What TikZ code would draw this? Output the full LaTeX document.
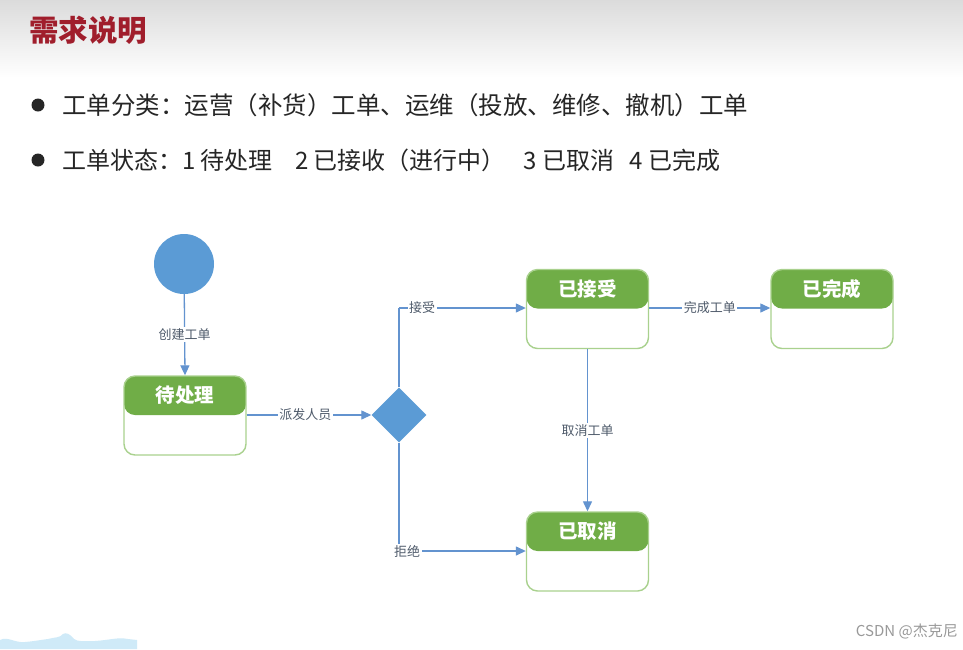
\documentclass[tikz,border=0pt]{standalone}
\usepackage{fontspec}
\setmainfont{Noto Sans CJK SC}
\usetikzlibrary{arrows.meta,shapes.geometric}
\definecolor{hdrgreen}{HTML}{70AD47}
\definecolor{boxline}{HTML}{A9D18E}
\definecolor{flowblue}{HTML}{5B9BD5}
\definecolor{linkblue}{HTML}{6393CF}
\definecolor{labelgray}{HTML}{4F5B6B}
\definecolor{titlered}{HTML}{A01E2C}
\definecolor{cloudblue}{HTML}{CFEAF8}
\tikzset{
  statebox/.style={rectangle, rounded corners=11pt, draw=boxline, line width=1.4pt,
    fill=white, minimum width=122pt, minimum height=79pt, inner sep=0pt,
    path picture={\fill[hdrgreen] ([yshift=2pt]path picture bounding box.north west)
      rectangle ([yshift=0.5pt]path picture bounding box.east);}},
  hdrtext/.style={text=white, font=\fontsize{19.5}{21}\selectfont\bfseries, inner sep=0pt},
  link/.style={draw=linkblue, line width=1.3pt, -{Triangle[length=10pt,width=9pt]}},
  plainlink/.style={draw=linkblue, line width=1.3pt},
  lbl/.style={fill=white, text=labelgray, font=\fontsize{13}{15}\selectfont, inner sep=1.5pt},
  bullettext/.style={anchor=west, text=black!85, inner sep=0pt},
}
\begin{document}
\begin{tikzpicture}[x=1pt,y=-1pt]
\useasboundingbox (0,0) rectangle (963,649);
\fill[white] (0,0) rectangle (963,649);
\shade[top color=black!14, bottom color=white] (0,0) rectangle (963,78);
\node[anchor=west, text=titlered, font=\fontsize{29.5}{31}\selectfont\bfseries, inner sep=0pt] (title) at (29,30) {需求说明};
% bullets
\fill[black!85] (38,105) circle (6.5) (38,160) circle (6.5);
\node[bullettext, font=\fontsize{24.5}{27}\selectfont] (l1) at (62,105) {工单分类：运营（补货）工单、运维（投放、维修、撤机）工单};
\node[bullettext, font=\fontsize{24}{27}\selectfont] (l2) at (62,160) {工单状态：1 待处理\hspace{17pt} 2 已接收（进行中）\hspace{12pt} 3 已取消\hspace{10pt} 4 已完成};
% diagram
\node[circle, fill=flowblue, minimum size=60pt, inner sep=0pt] (start) at (184,264) {};
\node[statebox] (pending) at (185,415.5) {};
\node[hdrtext] (pendingT) at ([yshift=-20pt]pending.north) {待处理};
\node[diamond, fill=flowblue, minimum width=55pt, minimum height=55pt, inner sep=0pt] (dec) at (399,415) {};
\node[statebox] (accepted) at (587.5,309) {};
\node[hdrtext] (acceptedT) at ([yshift=-20pt]accepted.north) {已接受};
\node[statebox] (done) at (832,309) {};
\node[hdrtext] (doneT) at ([yshift=-20pt]done.north) {已完成};
\node[statebox] (cancel) at (587.5,551.5) {};
\node[hdrtext] (cancelT) at ([yshift=-20pt]cancel.north) {已取消};
\coordinate (ta) at (399,308);
\coordinate (tb) at (399,551);
% connectors
\draw[link] (start) -- node[lbl, pos=0.5] {创建工单} (pending.north);
\draw[link] (pending.east |- dec) -- node[lbl, pos=0.47] {派发人员} (dec.west);
\draw[plainlink] (dec.north) -- (ta);
\draw[link] (ta) -- (ta -| accepted.west);
\node[lbl] (accL) at (422,308) {接受};
\draw[plainlink] (dec.south) -- (tb);
\draw[link] (tb) -- (tb -| cancel.west);
\node[lbl] (rejL) at (407,551) {拒绝};
\draw[link] (accepted.east |- ta) -- node[lbl, pos=0.5] {完成工单} (done.west |- ta);
\draw[link] (accepted.south) -- node[lbl, pos=0.5] {取消工单} (cancel.north);
% bottom decoration and watermark
\fill[cloudblue] (0,640) .. controls (8,636) and (14,643) .. (25,642) .. controls (36,641) and (40,640) .. (48,639) .. controls (55,637) and (60,638) .. (63,634) .. controls (66,632) and (70,634) .. (74,639) .. controls (78,642) and (84,641) .. (95,641) .. controls (110,640) and (118,637) .. (128,639) -- (137,640) -- (137,649) -- (0,649) -- cycle;
\node[anchor=east, text=black!40, font=\fontsize{15}{17}\selectfont, inner sep=0pt] (wm) at (958,631) {CSDN @杰克尼};
\end{tikzpicture}
\end{document}
